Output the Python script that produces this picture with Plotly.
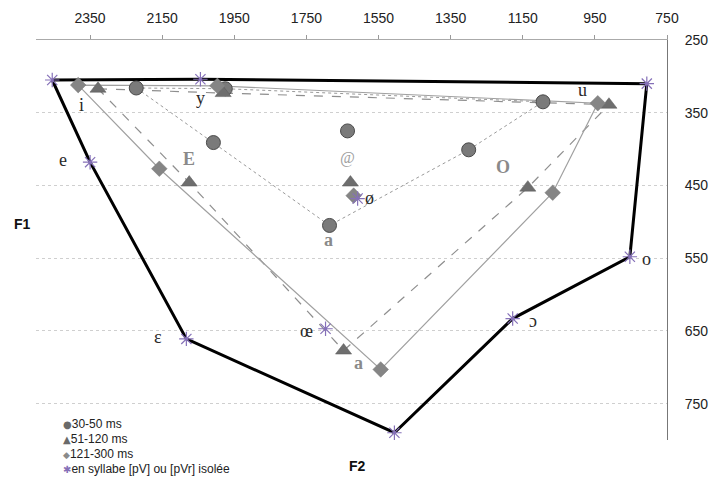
import plotly.graph_objects as go

# ---- data (F2, F1 in Hz) ----
vowels_dur = ["i", "y", "u", "O", "a", "E"]
f2_30_50 = [2222, 1975, 1094, 1300, 1686, 2008]
f1_30_50 = [316, 317, 335, 401, 505, 391]
f2_51_120 = [2328, 1981, 911, 1136, 1647, 2075]
f1_51_120 = [317, 323, 339, 453, 677, 446]
f2_121_300 = [2383, 1997, 942, 1067, 1544, 2158]
f1_121_300 = [312, 313, 337, 460, 703, 427]

# central vowels, not part of the polygons
f2_30_50_extra = [1636]
f1_30_50_extra = [375]
f2_51_120_extra = [1628]
f1_51_120_extra = [446]
f2_121_300_extra = [1619]
f1_121_300_extra = [464]

vowels_iso = ["i", "y", "u", "o", "ɔ", "a", "ɛ", "e"]
f2_iso = [2455, 2044, 806, 853, 1178, 1506, 2083, 2350]
f1_iso = [305, 304, 310, 548, 633, 790, 661, 418]
vowels_iso_extra = ["œ", "ø"]
f2_iso_extra = [1697, 1608]
f1_iso_extra = [647, 468]

x_ticks = [2350, 2150, 1950, 1750, 1550, 1350, 1150, 950, 750]
y_ticks = [250, 350, 450, 550, 650, 750]

legend_labels = ["30-50 ms", "51-120 ms", "121-300 ms", "en syllabe [pV] ou [pVr] isolée"]

# labels: (text, F2, F1, style)
vowel_labels = [
    ("i", 2375, 339, "dark"), ("y", 2044, 330, "dark"), ("u", 983, 319, "dark"),
    ("e", 2425, 415, "dark"), ("E", 2075, 413, "gray"), ("@", 1636, 412, "at"),
    ("ø", 1575, 467, "dark"), ("a", 1689, 525, "gray"), ("O", 1206, 424, "gray"),
    ("o", 808, 551, "dark"), ("ɔ", 1122, 636, "dark"), ("a", 1506, 808, "dark"),
    ("ɛ", 2161, 659, "dark"), ("œ", 1750, 650, "dark"), ("a", 1606, 694, "gray"),
]

def closed(v):
    return list(v) + [v[0]]

fig = go.Figure()

# polygons
fig.add_trace(go.Scatter(x=closed(f2_30_50), y=closed(f1_30_50), mode="lines",
                         line=dict(color="#9a9a9a", width=1, dash="dot"), hoverinfo="skip"))
fig.add_trace(go.Scatter(x=closed(f2_51_120), y=closed(f1_51_120), mode="lines",
                         line=dict(color="#8e8e8e", width=1.2, dash="dash"), hoverinfo="skip"))
fig.add_trace(go.Scatter(x=closed(f2_121_300), y=closed(f1_121_300), mode="lines",
                         line=dict(color="#a0a0a0", width=1.2), hoverinfo="skip"))
fig.add_trace(go.Scatter(x=closed(f2_iso), y=closed(f1_iso), mode="lines",
                         line=dict(color="black", width=3), hoverinfo="skip"))

# markers
fig.add_trace(go.Scatter(x=f2_30_50 + f2_30_50_extra, y=f1_30_50 + f1_30_50_extra,
                         mode="markers", name=legend_labels[0],
                         marker=dict(symbol="circle", size=14, color="#7a7a7a",
                                     line=dict(color="#4a4a4a", width=1))))
fig.add_trace(go.Scatter(x=f2_51_120 + f2_51_120_extra, y=f1_51_120 + f1_51_120_extra,
                         mode="markers", name=legend_labels[1],
                         marker=dict(symbol="triangle-up", size=14, color="#6e6e6e",
                                     line=dict(color="#5a5a5a", width=0.5))))
fig.add_trace(go.Scatter(x=f2_121_300 + f2_121_300_extra, y=f1_121_300 + f1_121_300_extra,
                         mode="markers", name=legend_labels[2],
                         marker=dict(symbol="diamond", size=12, color="#858585",
                                     line=dict(color="#777777", width=0.5))))
fig.add_trace(go.Scatter(x=f2_iso + f2_iso_extra, y=f1_iso + f1_iso_extra,
                         mode="markers", name=legend_labels[3],
                         marker=dict(symbol="asterisk-open", size=12, color="#8570b8",
                                     line=dict(color="#8570b8", width=1.2))))

annotations = []
for txt, x, y, style in vowel_labels:
    if style == "dark":
        font = dict(family="Liberation Serif, Times New Roman, serif", size=18, color="#2a2a2a")
    elif style == "gray":
        font = dict(family="Liberation Serif, Times New Roman, serif", size=18, color="#8a8a8a")
        txt = "<b>" + txt + "</b>"
    else:
        font = dict(family="Liberation Serif, Times New Roman, serif", size=16, color="#a0a0a0")
        txt = "<i>" + txt + "</i>"
    annotations.append(dict(x=x, y=y, xref="x", yref="y", text=txt, showarrow=False, font=font))

# axis titles
annotations.append(dict(x=(22 - 36) / 631, y=(440 - 224) / 400, xref="paper", yref="paper",
                        xanchor="center", yanchor="middle",
                        text="<b>F1</b>", showarrow=False,
                        font=dict(family="Liberation Sans, Arial", size=14, color="#111")))
annotations.append(dict(x=(357 - 36) / 631, y=(440 - 466) / 400, xref="paper", yref="paper",
                        xanchor="center", yanchor="middle",
                        text="<b>F2</b>", showarrow=False,
                        font=dict(family="Liberation Sans, Arial", size=14, color="#111")))

# legend as text lines
leg_symbols = [("●", "#6a6a6a", 10), ("▲", "#6a6a6a", 10), ("◆", "#8a8a8a", 9), ("✱", "#8570b8", 10)]
leg_y_px = [424, 439, 454, 469]
for (sym, col, sz), lab, ypx in zip(leg_symbols, legend_labels, leg_y_px):
    annotations.append(dict(
        x=(61 - 36) / 631, y=(440 - ypx) / 400, xref="paper", yref="paper",
        xanchor="left", yanchor="middle", showarrow=False,
        text=f"<span style='color:{col};font-size:{sz}px;font-family:DejaVu Sans'>{sym}</span>{lab}",
        font=dict(family="Liberation Sans, Arial", size=12, color="#222")))

fig.update_layout(
    width=715, height=479,
    margin=dict(l=36, r=48, t=40, b=39),
    paper_bgcolor="white", plot_bgcolor="white",
    showlegend=False,
    annotations=annotations,
    font=dict(family="Liberation Sans, Arial", size=14, color="#222"),
)
fig.update_xaxes(
    side="top", range=[2500, 750], tickvals=x_ticks, automargin=False,
    ticks="outside", ticklen=4, tickcolor="#999", ticklabelstandoff=6,
    showline=True, linecolor="#aaaaaa", linewidth=1,
    showgrid=False, zeroline=False,
    tickfont=dict(family="Liberation Sans, Arial", size=14, color="#222"),
)
fig.update_yaxes(
    side="right", range=[800, 250], tickvals=y_ticks, automargin=False,
    ticks="", ticklabelstandoff=14, showline=True, linecolor="#777777", linewidth=1,
    showgrid=True, gridcolor="#cfcfcf", griddash="dot", gridwidth=1,
    zeroline=False,
    tickfont=dict(family="Liberation Sans, Arial", size=14, color="#222"),
)

fig.write_html("out.html", post_script="document.body.style.margin='0px';",
               config={"displayModeBar": False})
